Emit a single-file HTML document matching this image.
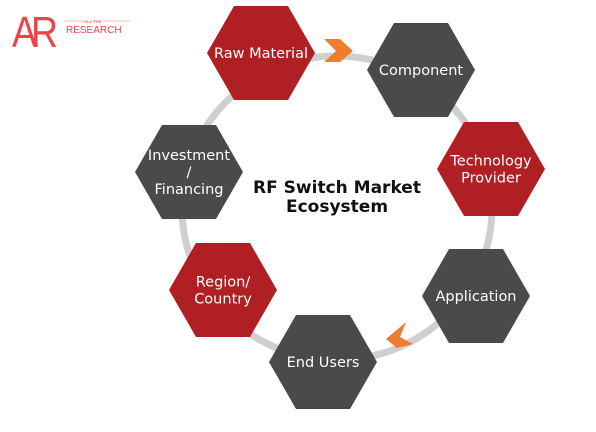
<!DOCTYPE html>
<html><head><meta charset="utf-8"><style>
body{margin:0;background:#fff;width:596px;height:432px;overflow:hidden}
svg{display:block}
.lbl{font-family:"DejaVu Sans","Liberation Sans",sans-serif;font-size:14.5px;fill:#fff;text-anchor:middle}
</style></head><body>
<svg width="596" height="432" viewBox="0 0 596 432">
<g>
<text x="12" y="47" font-family="Liberation Sans,sans-serif" font-size="44" fill="#e8474a" letter-spacing="-7" transform="translate(12 0) scale(0.85 1) translate(-12 0)">AR</text>
<line x1="64" y1="21" x2="130" y2="21" stroke="#f2a0a0" stroke-width="0.8"/>
<text x="93" y="23" font-family="Liberation Sans,sans-serif" font-size="4.5" fill="#e8474a" text-anchor="middle" stroke="#fff" stroke-width="2" paint-order="stroke">ALL THE</text>
<text x="66" y="33" font-family="Liberation Sans,sans-serif" font-size="10" fill="#e8474a">RESEARCH</text>
</g>
<ellipse cx="337" cy="208" rx="155" ry="152" fill="none" stroke="#cfcfcf" stroke-width="7"/>
<polygon points="324,39 340,39 353,51 340,62 324,62 336,51" fill="#ee7d30"/>
<polygon points="406,322 386,339 397,348 413,344 400,337" fill="#ee7d30"/>
<g id="hexes"></g>
<text x="337" y="193" font-family="DejaVu Sans,Liberation Sans,sans-serif" font-size="17" font-weight="bold" fill="#111" text-anchor="middle"><tspan x="337">RF Switch Market</tspan><tspan x="337" dy="19">Ecosystem</tspan></text>
</svg>
<script>
const names=["Raw Material","Component","Technology|Provider","Application","End Users","Region/|Country","Investment|/|Financing"];
const cx=[261,421,491,476,323,223,189];
const cy=[53,70,169,296,362,290,172];
const colors=["#b01f24","#4a4a4a","#b01f24","#4a4a4a","#4a4a4a","#b01f24","#4a4a4a"];
const g=document.getElementById('hexes');
const NS="http://www.w3.org/2000/svg";
for(let i=0;i<names.length;i++){
 const grp=document.createElementNS(NS,'g');
 
 
 const x=cx[i],y=cy[i],w=54,h=47;
 const p=document.createElementNS(NS,'polygon');
 p.setAttribute('points',[[x-w,y],[x-w/2,y-h],[x+w/2,y-h],[x+w,y],[x+w/2,y+h],[x-w/2,y+h]].map(a=>a.join(',')).join(' '));
 p.setAttribute('fill',colors[i]);
 
 
 grp.appendChild(p);
 const lines=names[i].split('|');
 const t=document.createElementNS(NS,'text');
 t.setAttribute('class','lbl');
 
 
 const lh=17,start=y+5-(lines.length-1)*lh/2;
 lines.forEach((l,k)=>{const s=document.createElementNS(NS,'tspan');s.setAttribute('x',x);s.setAttribute('y',start+k*lh);s.textContent=l;t.appendChild(s);});
 grp.appendChild(t);
 g.appendChild(grp);
}
</script>
</body></html>
